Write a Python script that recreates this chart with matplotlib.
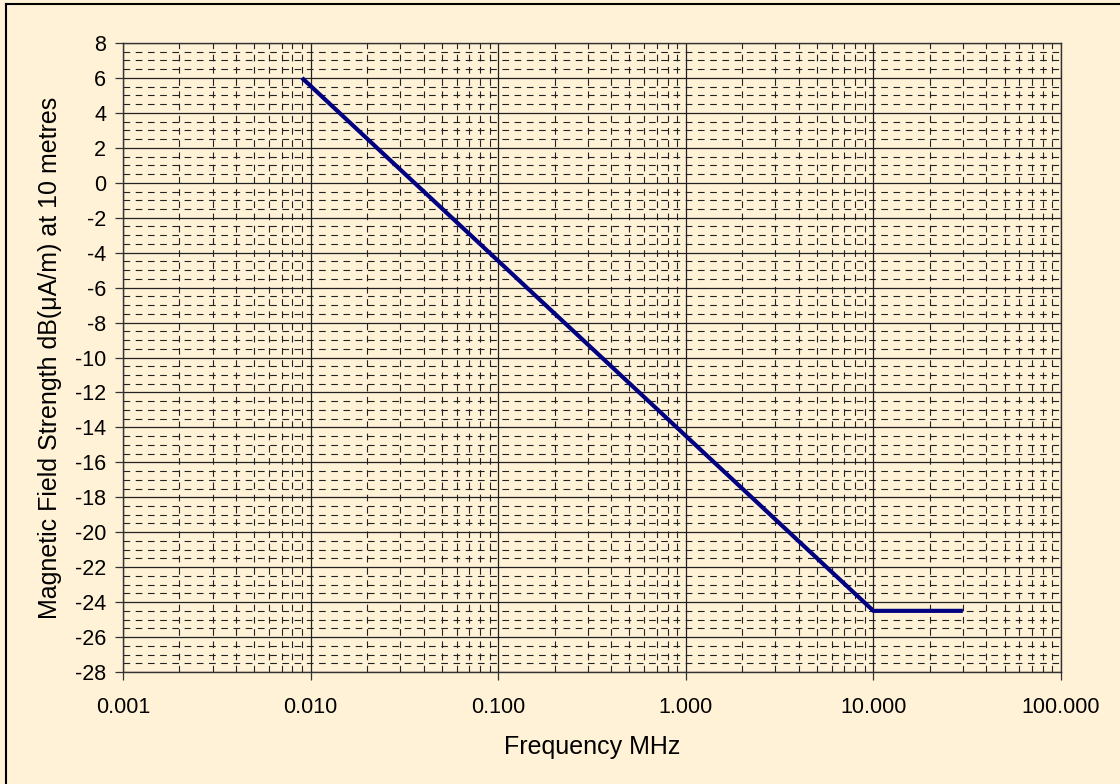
import matplotlib
matplotlib.use("Agg")
import matplotlib.pyplot as plt
from matplotlib.ticker import FixedLocator, FuncFormatter, LogLocator, MultipleLocator
from matplotlib.lines import Line2D

# Data
freq_mhz = [0.009, 10.0, 30.0]
level_db = [6.0, -24.5, -24.5]
x_ticks = [0.001, 0.01, 0.1, 1.0, 10.0, 100.0]
x_tick_labels = ["0.001", "0.010", "0.100", "1.000", "10.000", "100.000"]
y_min, y_max, y_step = -28, 8, 2

bg = "#FFF2D6"
plt.rcParams['font.family'] = ['Liberation Sans', 'DejaVu Sans']
plt.rcParams['axes.unicode_minus'] = False

fig = plt.figure(figsize=(11.2, 7.84), dpi=100, facecolor=bg)
W, H = 1120, 784
ax = fig.add_axes([123 / W, 1 - 672 / H, (1061 - 123) / W, (672 - 43) / H])
ax.set_facecolor(bg)

ax.set_xscale('log')
ax.set_xlim(0.001, 100)
ax.set_ylim(y_min, y_max)

ax.xaxis.set_major_locator(FixedLocator(x_ticks))
ax.xaxis.set_major_formatter(FuncFormatter(lambda v, p: x_tick_labels[x_ticks.index(min(x_ticks, key=lambda t: abs(t - v)))]))
ax.xaxis.set_minor_locator(LogLocator(base=10, subs=range(2, 10), numticks=20))
ax.xaxis.set_minor_formatter(FuncFormatter(lambda v, p: ""))
ax.yaxis.set_major_locator(MultipleLocator(y_step))
ax.yaxis.set_minor_locator(MultipleLocator(0.5))

ax.grid(which='major', color='#222222', linewidth=0.9, linestyle='-')
ax.grid(which='minor', color='#222222', linewidth=0.8, linestyle=(0, (6, 5)))
ax.set_axisbelow(True)

ax.tick_params(which='major', direction='out', length=6, width=0.9, color='#333333',
               labelsize=15.5, pad=12)
ax.tick_params(axis='y', which='major', pad=6)
ax.tick_params(which='minor', length=0)

for s in ax.spines.values():
    s.set_color('#333333')
    s.set_linewidth(1.0)

ax.plot(freq_mhz, level_db, color='#000080', linewidth=3.0, solid_capstyle='butt', zorder=5)

ax.set_xlabel('Frequency MHz', fontsize=18, labelpad=12)
ax.set_ylabel('Magnetic Field Strength dB(\u03bcA/m) at 10 metres', fontsize=18, labelpad=9)

# figure border (top and left visible)
fig.add_artist(Line2D([5.5 / W, 5.5 / W], [0, 1 - 3.5 / H], transform=fig.transFigure, color='black', linewidth=1.5))
fig.add_artist(Line2D([5.5 / W, 1], [1 - 3.5 / H, 1 - 3.5 / H], transform=fig.transFigure, color='black', linewidth=1.5))

fig.savefig('out.png', dpi=100, facecolor=bg)
